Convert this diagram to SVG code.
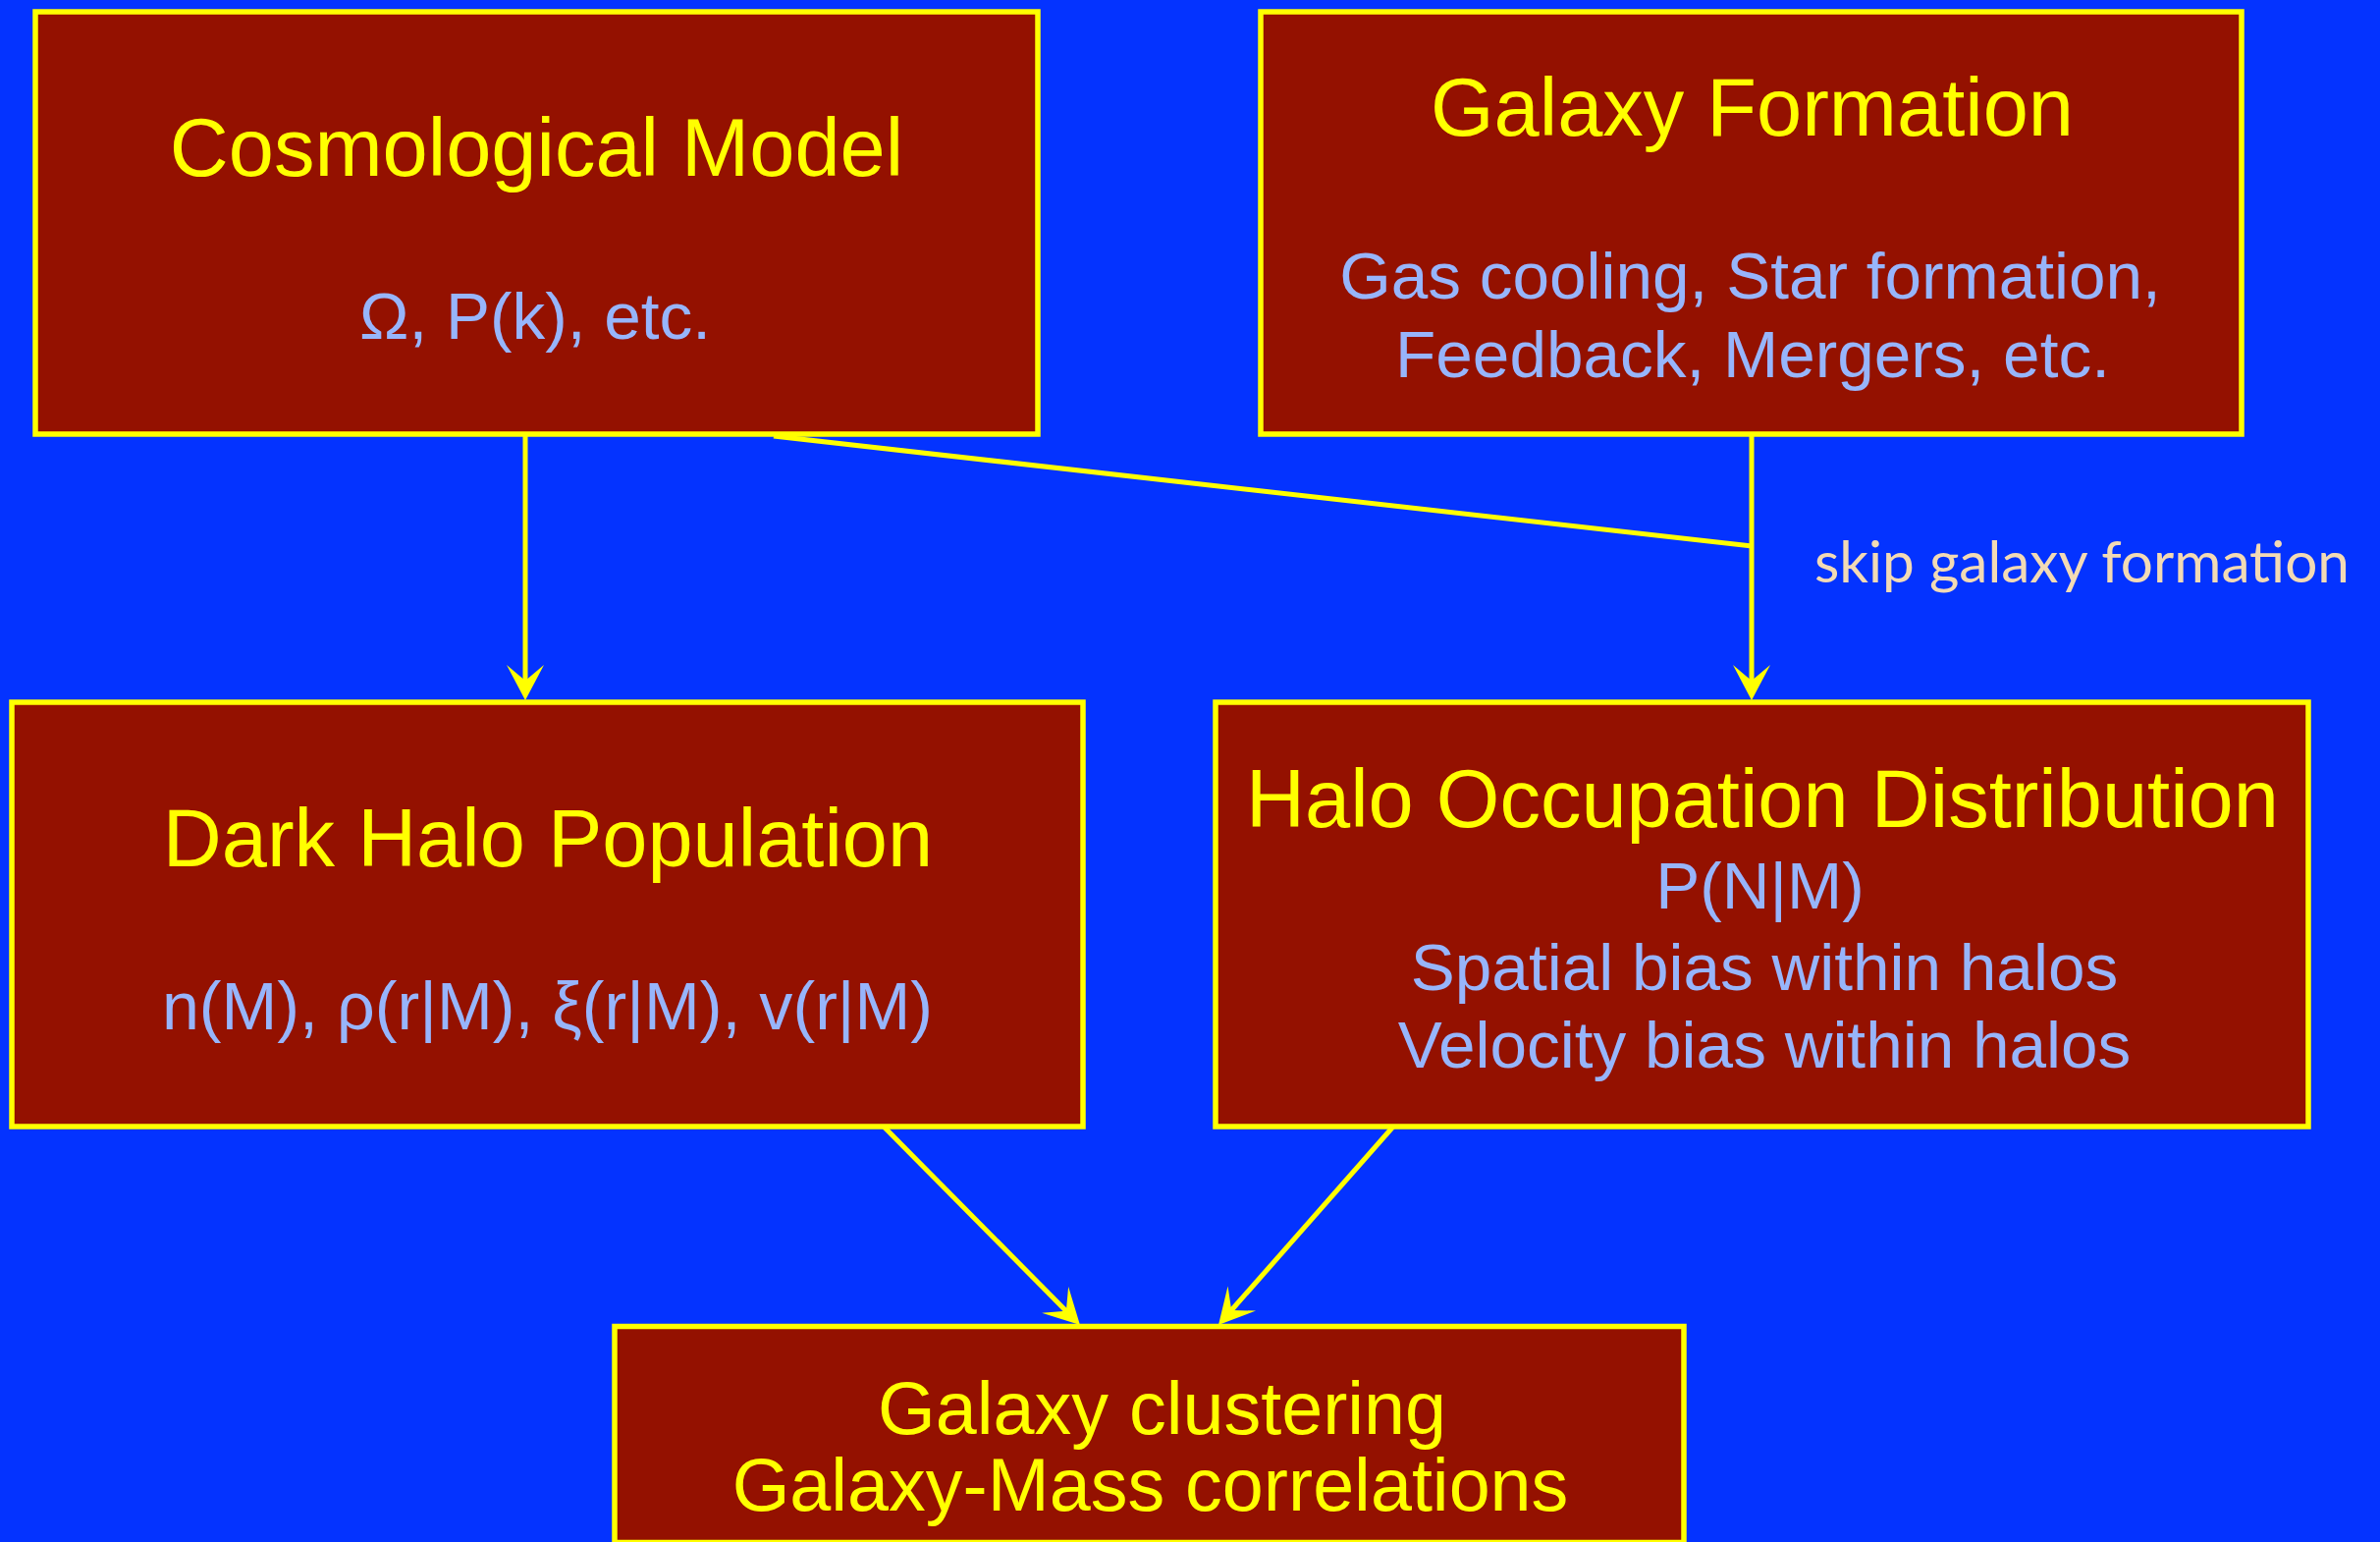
<svg xmlns="http://www.w3.org/2000/svg" width="2424" height="1570" viewBox="0 0 2424 1570">
<style>
.box{fill:#941100;stroke:#FFFF00;stroke-width:5.5}
.t{font-family:"Liberation Sans",Arial,Helvetica,sans-serif;fill:#FFFF00;font-size:83px;text-anchor:middle}
.s{font-family:"Liberation Sans",Arial,Helvetica,sans-serif;fill:#97B5FB;font-size:67.5px;text-anchor:middle}
.c{stroke:#FFFF00;stroke-width:5;fill:none}
.lbl{font-family:Lato,"Open Sans",sans-serif;fill:#F2DAB5;font-size:58px}
</style>
<defs>
<marker id="arr" viewBox="-40 -22 44 44" refX="-18" refY="0" markerWidth="44" markerHeight="44" markerUnits="userSpaceOnUse" orient="auto">
<path d="M0,0 L-36,-19 L-20,0 L-36,19 Z" fill="#FFFF00"/>
</marker>
</defs>
<rect x="0" y="0" width="2424" height="1570" fill="#0433FF"/>
<g id="connectors">
<line class="c" x1="535" y1="444" x2="535" y2="695" marker-end="url(#arr)"/>
<line class="c" x1="1784" y1="444" x2="1784" y2="695" marker-end="url(#arr)"/>
<line class="c" x1="788" y1="444" x2="1784" y2="556"/>
<line class="c" x1="900" y1="1147" x2="1087.3" y2="1336.2" marker-end="url(#arr)"/>
<line class="c" x1="1419" y1="1147" x2="1252.9" y2="1335.5" marker-end="url(#arr)"/>
<text class="lbl" x="1848" y="593" textLength="545" lengthAdjust="spacingAndGlyphs">skip galaxy formation</text>
</g>
<g id="cosmological-model">
<rect class="box" x="36" y="12" width="1021" height="430"/>
<text class="t" x="546.5" y="179">Cosmological Model</text>
<text class="s" x="545" y="345">Ω, P(k), etc.</text>
</g>
<g id="galaxy-formation">
<rect class="box" x="1284" y="12" width="999" height="430"/>
<text class="t" x="1784.5" y="138">Galaxy Formation</text>
<text class="s" x="1782.5" y="304">Gas cooling, Star formation,</text>
<text class="s" x="1785" y="384">Feedback, Mergers, etc.</text>
</g>
<g id="dark-halo-population">
<rect class="box" x="12" y="715" width="1091" height="432"/>
<text class="t" x="558" y="882">Dark Halo Population</text>
<text class="s" x="557.5" y="1048" style="font-size:68.2px">n(M), ρ(r|M), ξ(r|M), v(r|M)</text>
</g>
<g id="halo-occupation-distribution">
<rect class="box" x="1238" y="715" width="1113" height="432"/>
<text class="t" x="1795" y="842">Halo Occupation Distribution</text>
<text class="s" x="1792.5" y="925">P(N|M)</text>
<text class="s" x="1797" y="1008">Spatial bias within halos</text>
<text class="s" x="1797" y="1087">Velocity bias within halos</text>
</g>
<g id="galaxy-clustering">
<rect class="box" x="626" y="1350.5" width="1089" height="220"/>
<text class="t" x="1183.5" y="1460" style="font-size:75.5px">Galaxy clustering</text>
<text class="t" x="1171.5" y="1538" style="font-size:75.5px">Galaxy-Mass correlations</text>
</g>
</svg>
